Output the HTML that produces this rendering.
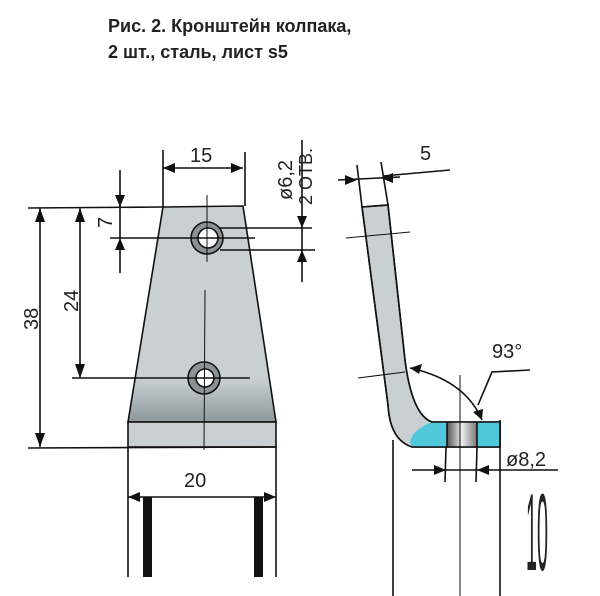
<!DOCTYPE html>
<html><head><meta charset="utf-8"><style>
body{margin:0;background:#fff;width:600px;height:596px;overflow:hidden}
.t{position:absolute;left:108px;font:bold 18px "Liberation Sans",sans-serif;color:#222;line-height:26px}
</style></head><body>
<div class="t" style="top:13px">Рис. 2. Кронштейн колпака,<br>2 шт., сталь, лист s5</div>
<svg width="600" height="596" style="position:absolute;left:0;top:0;overflow:hidden" font-family="Liberation Sans, sans-serif">
<defs><linearGradient id="g" x1="0" y1="0" x2="0" y2="1"><stop offset="0.8" stop-color="#c8d0d4"/><stop offset="1" stop-color="#8e999d"/></linearGradient>
<linearGradient id="h" x1="0" x2="1"><stop offset="0" stop-color="#555"/><stop offset="0.5" stop-color="#eee"/><stop offset="1" stop-color="#777"/></linearGradient></defs>
<g stroke="#111" stroke-width="1.6" fill="none">
<path d="M163 207 L243 206 L276 422 L128 422 Z" fill="url(#g)"/>
<rect x="128" y="422" width="148" height="25" fill="#c8d0d4"/>
<circle cx="207" cy="238" r="16" fill="#8a9296"/><circle cx="208" cy="238" r="10" fill="#fff"/>
<circle cx="204" cy="378" r="16" fill="#8a9296"/><circle cx="205" cy="378" r="9" fill="#fff"/>
<line x1="207" y1="195" x2="207" y2="262" stroke-width="1"/><line x1="205" y1="290" x2="204" y2="450" stroke-width="1"/>
<line x1="163" y1="150" x2="163" y2="207"/><line x1="245" y1="152" x2="245" y2="206"/><line x1="163" y1="168" x2="243" y2="168"/>
<line x1="28" y1="208" x2="163" y2="207"/><line x1="28" y1="448" x2="276" y2="447"/>
<line x1="40" y1="208" x2="40" y2="447"/><line x1="80" y1="208" x2="80" y2="378"/><line x1="72" y1="378" x2="250" y2="378"/>
<line x1="120" y1="170" x2="120" y2="273"/><line x1="110" y1="238" x2="255" y2="238"/>
<line x1="220" y1="228" x2="312" y2="228"/><line x1="220" y1="250" x2="315" y2="250"/><line x1="302" y1="140" x2="302" y2="282"/>
<line x1="128" y1="447" x2="128" y2="577"/><line x1="276" y1="447" x2="276" y2="577"/><line x1="128" y1="497" x2="276" y2="497"/>
<path d="M338 180 L400 177 M357 165 L362 207 M381 162 L388 205 M383 176 L450 170"/>
<path d="M362 207 L388 205 L405 360 Q412 415 432 422 L500 422 L500 447 L412 447 Q390 440 388 405 Z" fill="#c8d0d4"/>
<path d="M432 422 Q412 430 410 442 L412 447 L447 447 L447 422 Z" fill="#4fc8dc" stroke="none"/>
<rect x="447" y="422" width="30" height="25" fill="url(#h)" stroke="none"/>
<rect x="477" y="422" width="23" height="25" fill="#4fc8dc" stroke="none"/>
<path d="M362 207 L388 205 L405 360 Q412 415 432 422 L500 422 L500 447 L412 447 Q390 440 388 405 Z"/>
<line x1="447" y1="422" x2="447" y2="447"/><line x1="477" y1="422" x2="477" y2="447"/>
<line x1="393" y1="440" x2="393" y2="596"/><line x1="460" y1="375" x2="460" y2="596" stroke-width="1"/><line x1="500" y1="420" x2="500" y2="596"/>
<line x1="446" y1="447" x2="445" y2="482"/><line x1="477" y1="447" x2="476" y2="482"/>
<line x1="412" y1="470" x2="558" y2="470"/>
<path d="M410 368 Q465 380 482 420 M478 405 L492 372 L530 370"/>
<line x1="346" y1="238" x2="410" y2="232" stroke-width="1"/><line x1="358" y1="378" x2="405" y2="372" stroke-width="1"/>
</g>
<g fill="#111"><rect x="143" y="497" width="9" height="80"/><rect x="254" y="497" width="9" height="80"/>
<path d="M163 168 l12 -5 v10z M243 168 l-12 -5 v10z M40 208 l-5 14 h10z M40 447 l-5 -14 h10z M80 208 l-5 14 h10z M80 378 l-5 -14 h10z M120 207 l-5 -12 h10z M120 238 l-5 12 h10z M302 228 l-5 -12 h10z M302 250 l-5 12 h10z M128 497 l12 -5 v10z M276 497 l-12 -5 v10z M357 180 l-12 -5 v10z M381 178 l12 -5 v10z M446 470 l-12 -5 v10z M477 470 l12 -5 v10z M410 368 l12 -4 l-3 10z M482 420 l-9 -8 l10 -3z"/></g>
<g font-size="20" fill="#222">
<text x="190" y="162">15</text><text x="184" y="487">20</text><text x="420" y="160">5</text>
<text x="492" y="358">93°</text><text x="506" y="466">ø8,2</text>
<text transform="translate(38,330) rotate(-90)">38</text><text transform="translate(78,312) rotate(-90)">24</text>
<text transform="translate(112,228) rotate(-90)">7</text>
<text transform="translate(292,200) rotate(-90)">ø6,2</text><text transform="translate(312,205) rotate(-90)" font-size="18">2 ОТВ.</text>
<text transform="translate(526,570) scale(0.9,5)" font-size="22" font-weight="100">10</text></g>
</svg></body></html>
